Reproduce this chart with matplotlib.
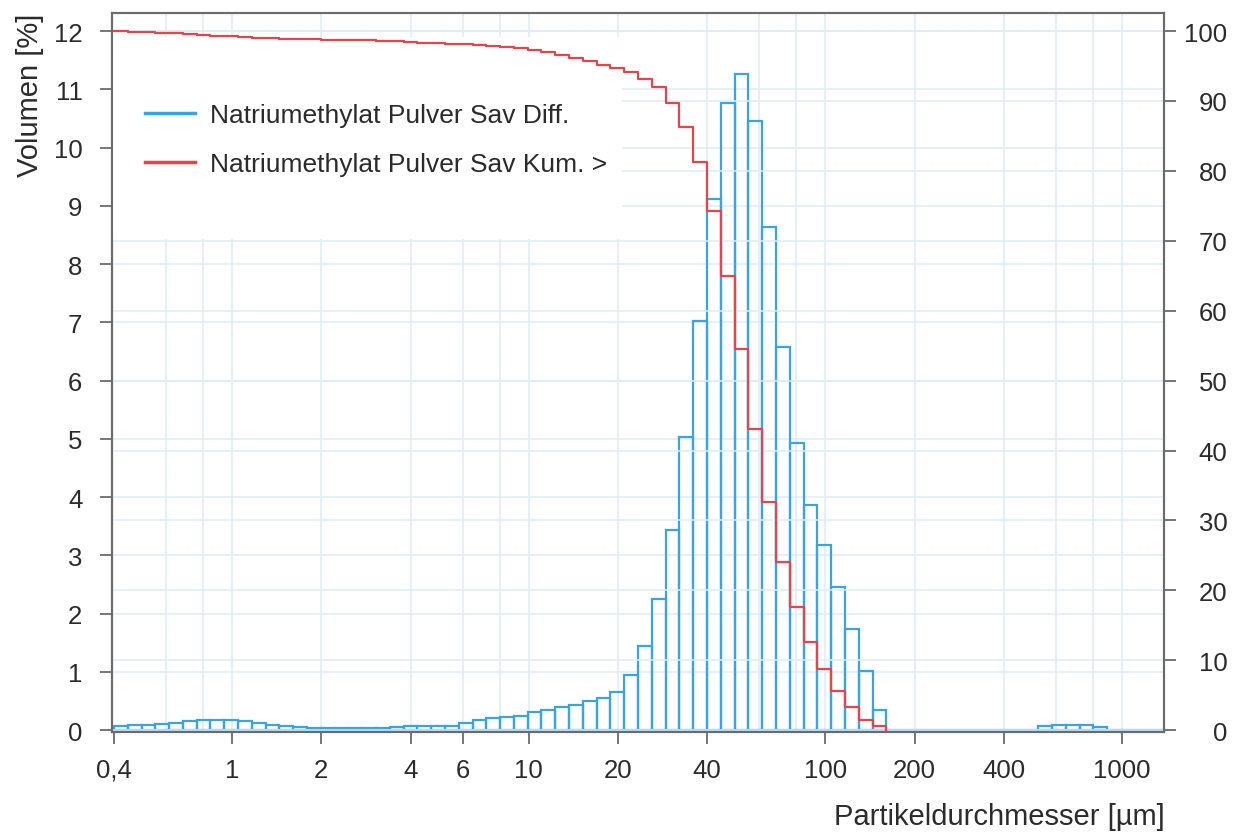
import numpy as np
import matplotlib
matplotlib.use("Agg")
import matplotlib.pyplot as plt
from matplotlib.lines import Line2D
from matplotlib.patches import Rectangle
from matplotlib.ticker import FixedLocator, NullFormatter

plt.rcParams['font.family'] = ['Liberation Sans', 'DejaVu Sans']

# ====== DATA ======
# size class edges [um] (geometric grid of the instrument)
CLASS_EDGES = [
    0.400, 0.445, 0.496, 0.551, 0.614, 0.683, 0.760, 0.846, 0.942, 1.048,
    1.167, 1.299, 1.446, 1.609, 1.791, 1.993, 2.219, 2.470, 2.749, 3.059,
    3.405, 3.790, 4.219, 4.695, 5.226, 5.817, 6.474, 7.206, 8.020, 8.926,
    9.93, 11.05, 12.31, 13.70, 15.24, 16.97, 18.88, 21.02, 23.39, 26.04,
    28.98, 32.26, 35.91, 39.96, 44.48, 49.51, 55.10, 61.33, 68.26, 75.98,
    84.57, 94.1, 104.7, 116.6, 129.8, 144.4, 160.7, 178.9, 199.1, 221.6,
    246.7, 274.6, 305.6, 340.2, 378.6, 421.4, 469.0, 522.1, 581.1, 646.8,
    719.9, 801.3, 891.9, 992.2, 1104, 1229, 1368, 1523,
]

# differential volume per class [%]
DIFF_VOL = [
    0.08, 0.09, 0.09, 0.10, 0.12, 0.15, 0.17, 0.17, 0.17, 0.15,
    0.13, 0.09, 0.08, 0.05, 0.04, 0.04, 0.03,
    0.03, 0.03, 0.03, 0.06, 0.08, 0.08, 0.08, 0.08, 0.12, 0.17,
    0.21, 0.22, 0.25, 0.31, 0.35, 0.39, 0.44, 0.50,
    0.55, 0.66, 0.94, 1.45, 2.25, 3.44, 5.04, 7.03, 9.11, 10.77,
    11.27, 10.45, 8.64, 6.58, 4.93, 3.86, 3.18, 2.45, 1.74, 1.01, 0.35,
    0, 0, 0, 0, 0, 0, 0, 0, 0, 0, 0,
    0.08, 0.09, 0.09, 0.09, 0.06,
    0, 0, 0, 0, 0,
]

# cumulative volume > [%], value over each class
CUM_GT = [
    100.0, 99.92, 99.84, 99.75, 99.66, 99.55, 99.43, 99.32, 99.22, 99.12,
    99.04, 98.97, 98.91, 98.86, 98.82, 98.78, 98.74, 98.70, 98.66, 98.62,
    98.55, 98.45, 98.35, 98.30, 98.20, 98.10, 97.95, 97.85, 97.70, 97.55,
    97.30, 96.95, 96.55, 96.10, 95.65, 95.20, 94.70, 94.10, 93.20, 92.00,
    89.70, 86.30, 81.20, 74.20, 65.00, 54.50, 43.10, 32.70, 24.10, 17.60,
    12.60, 8.76, 5.67, 3.39, 1.47, 0.67, 0.0,
]

X_TICKS = [0.4, 1, 2, 4, 6, 10, 20, 40, 100, 200, 400, 1000]
X_TICK_LABELS = ["0,4", "1", "2", "4", "6", "10", "20", "40", "100", "200", "400", "1000"]
X_GRID = [0.6, 0.8, 1, 2, 4, 6, 8, 10, 20, 40, 60, 80, 100, 200, 400, 600, 800, 1000]
LEFT_TICKS = list(range(0, 13))
RIGHT_TICKS = list(range(0, 101, 10))

LABEL_DIFF = "Natriumethylat Pulver Sav Diff."
LABEL_CUM = "Natriumethylat Pulver Sav Kum. >"

# ====== STYLE ======
BLUE = "#3ba3e2"
RED = "#e6434d"
GRID = "#dcedfb"
AXIS_GREY = "#6b6b6b"
TEXT = "#2b2b2b"
FS_TICK = 18.5
FS_LABEL = 21
FS_LEG = 19

fig = plt.figure(figsize=(12.43, 8.37), dpi=100)
ax = fig.add_axes([0.0903, 0.1243, 0.8464, 0.8590])
ax.set_xscale("log")
ax2 = ax.twinx()

edges = np.array(CLASS_EDGES)

# blue histogram (outlined bars)
ax.bar(edges[:-1], DIFF_VOL, width=np.diff(edges), align="edge",
       fill=False, edgecolor=BLUE, linewidth=1.6, zorder=2)

# red cumulative step line
ax2.plot(edges[:len(CUM_GT)], CUM_GT, drawstyle="steps-post",
         color=RED, linewidth=1.6, zorder=3)

Y_BOTTOM = -0.03
ax.set_xlim(0.395, 1390)
ax.set_ylim(Y_BOTTOM, 12.31)
ax2.set_ylim(Y_BOTTOM * 100 / 12, 12.31 * 100 / 12)

# ticks
ax.set_xticks(X_TICKS)
ax.set_xticklabels(X_TICK_LABELS)
ax.xaxis.set_minor_locator(FixedLocator(X_GRID))
ax.xaxis.set_minor_formatter(NullFormatter())
ax.xaxis.remove_overlapping_locs = False
ax.tick_params(axis="x", which="minor", length=0)
ax.set_yticks(LEFT_TICKS)
ax2.set_yticks(RIGHT_TICKS)

ax.tick_params(axis="both", which="major", direction="out", length=8.5, width=1.3,
               color=AXIS_GREY, labelsize=FS_TICK, labelcolor=TEXT)
ax.tick_params(axis="y", pad=13)
ax.tick_params(axis="x", pad=10)
ax2.tick_params(axis="y", direction="out", length=8.5, width=1.3, color=AXIS_GREY,
                labelsize=FS_TICK, labelcolor=TEXT, pad=37)
for lab in ax2.get_yticklabels():
    lab.set_horizontalalignment("right")

# grid
ax.grid(axis="x", which="minor", color=GRID, linewidth=1.1)
ax.grid(axis="y", which="major", color=GRID, linewidth=1.1)
ax2.grid(axis="y", color=GRID, linewidth=1.1)
ax.set_axisbelow(True)
ax2.set_axisbelow(True)

for a in (ax, ax2):
    for sp in a.spines.values():
        sp.set_color(AXIS_GREY)
        sp.set_linewidth(1.5)

# labels
ax.set_ylabel("Volumen [%]", loc="top", fontsize=FS_LABEL, color=TEXT, labelpad=7)
ax.set_xlabel("Partikeldurchmesser [\u00b5m]", loc="right", fontsize=FS_LABEL,
              color=TEXT, labelpad=15)

# legend on white background
ax2.add_patch(Rectangle((0, 0.686), 0.4845, 0.281, transform=ax2.transAxes,
                        facecolor="white", edgecolor="none", zorder=1))
handles = [Line2D([], [], color=BLUE, linewidth=2.5),
           Line2D([], [], color=RED, linewidth=2.5)]
ax2.legend(handles, [LABEL_DIFF, LABEL_CUM], loc="upper left",
           bbox_to_anchor=(0.031, 0.875), frameon=False, fontsize=FS_LEG,
           handlelength=1.9, handletextpad=0.55, labelspacing=0.95,
           borderpad=0, borderaxespad=0, labelcolor=TEXT)

fig.savefig("out.png", dpi=100)
